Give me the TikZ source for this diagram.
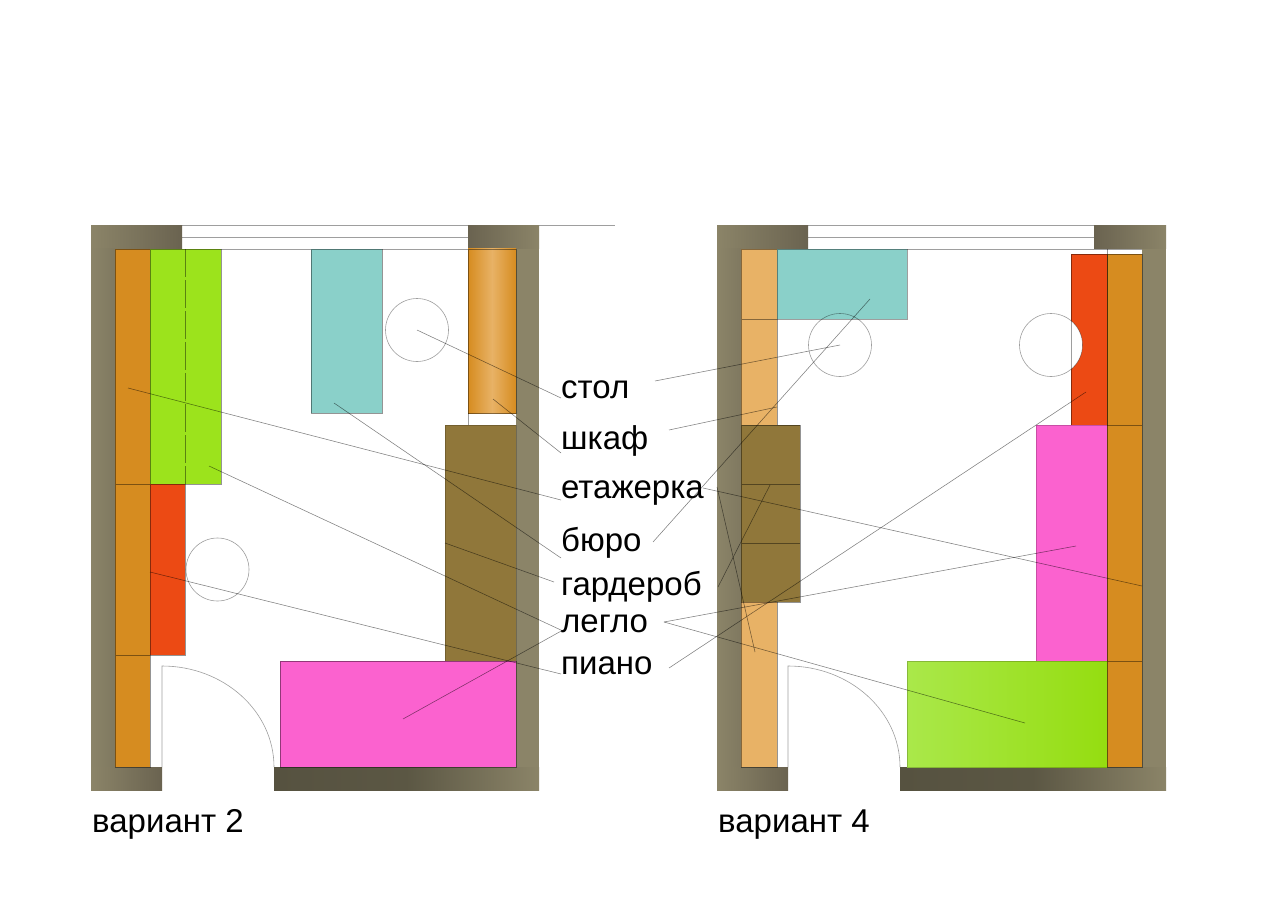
\documentclass[tikz,border=0pt]{standalone}
\usepackage{fontspec}
\setmainfont{Liberation Sans}
\definecolor{wallL}{HTML}{8B8468}
\definecolor{wallD}{HTML}{6A6350}
\definecolor{wallM}{HTML}{7F7860}
\definecolor{wallB}{HTML}{565240}
\definecolor{oran}{HTML}{D68C20}
\definecolor{oranL}{HTML}{E8B266}
\definecolor{grn}{HTML}{9CE31C}
\definecolor{grnL}{HTML}{AAE84A}
\definecolor{grnR}{HTML}{95DD10}
\definecolor{redd}{HTML}{EC4A14}
\definecolor{teal1}{HTML}{8AD0C9}
\definecolor{brwn}{HTML}{90773A}
\definecolor{pnk}{HTML}{FB62CF}
\tikzset{
  x=1pt,y=-1pt,
  edge1/.style={draw=black,draw opacity=.42,line width=.6pt},
  thinl/.style={draw=black,draw opacity=.38,line width=.6pt},
  connector/.style={draw=black,draw opacity=.5,line width=.55pt},
  label1/.style={anchor=base west,inner sep=0pt,font=\fontsize{33}{33}\selectfont}
}
\begin{document}
\begin{tikzpicture}
\useasboundingbox (0,0) rectangle (1280,904);
\fill[white] (0,0) rectangle (1280,904);
% ---------- plan 2 walls
\shade[left color=wallL,right color=wallD] (91,225.7) rectangle (182,249);
\shade[left color=wallL,right color=wallM] (91,249) rectangle (115,767);
\shade[left color=wallL,right color=wallD] (91,767) rectangle (162,790.6);
\shade[left color=wallB,right color=wallL,middle color=wallB!90!wallL] (274,767) rectangle (539,790.6);
\shade[left color=wallD,right color=wallL] (468,225.7) rectangle (539,249);
\fill[wallL] (516,249) rectangle (539,767);
\draw[thinl] (182,225) -- (468,225) (182,237) -- (468,237) (182,249) -- (468,249) (539,225) -- (615,225);
% furniture 2
\fill[oran] (115,249) rectangle (150,767);
\draw[edge1] (115,249) rectangle (150,767) (115,484) -- (150,484) (115,655) -- (150,655);
\fill[grn] (150,249) rectangle (221,484);
\draw[edge1] (150,249) rectangle (221,484);
\draw[edge1,dash pattern=on 28pt off 3pt] (185,249) -- (185,484);
\fill[redd] (150,484) rectangle (185,655);
\draw[edge1] (150,484) rectangle (185,655);
\fill[teal1] (311,249) rectangle (382,413);
\draw[edge1] (311,249) rectangle (382,413);
\shade[left color=oran,right color=oran,middle color=oranL] (468,249) rectangle (516,413);
\draw[edge1] (468,249) rectangle (516,413);
\draw[thinl] (468,413) -- (468,425);
\fill[brwn] (445,425) rectangle (516,661);
\draw[thinl,draw opacity=.2] (445,425) rectangle (516,661);
\fill[pnk] (280,661) rectangle (516,767);
\draw[edge1] (280,661) rectangle (516,767);
\draw[thinl] (417,330) circle[radius=31.5];
\draw[thinl] (217.5,569.5) circle[radius=31.5];
\draw[thinl] (162,767) -- (162,666) .. controls (223.8,666) and (274,711.2) .. (274,767);
% ---------- plan 4 walls
\shade[left color=wallL,right color=wallD] (717,225.7) rectangle (808,249);
\shade[left color=wallL,right color=wallM] (717,249) rectangle (741,767);
\shade[left color=wallL,right color=wallD] (717,767) rectangle (788,790.6);
\shade[left color=wallB,right color=wallL,middle color=wallB!90!wallL] (900,767) rectangle (1166,790.6);
\shade[left color=wallD,right color=wallL] (1094,225.7) rectangle (1166,249);
\fill[wallL] (1142,249) rectangle (1166,767);
\draw[thinl] (808,225) -- (1094,225) (808,237) -- (1094,237) (808,249) -- (1142,249);
% furniture 4
\fill[oranL] (741,249) rectangle (777,767);
\draw[edge1] (741,249) rectangle (777,767) (741,319) -- (777,319);
\fill[teal1] (777,249) rectangle (907,319);
\draw[thinl] (777,249) rectangle (907,319);
\fill[brwn] (741,425) rectangle (800,602);
\draw[edge1] (741,425) rectangle (800,602) (741,484) -- (800,484) (741,543) -- (800,543);
\draw[thinl] (840,345) circle[radius=31.5];
\fill[oran] (1107,254) rectangle (1142,767);
\draw[edge1] (1107,249) -- (1107,254) (1107,254) rectangle (1142,767) (1107,425) -- (1142,425) (1107,661) -- (1142,661);
\fill[redd] (1071,254) rectangle (1107,425);
\draw[edge1] (1071,254) rectangle (1107,425);
\fill[white,draw=black,draw opacity=.38,line width=.6pt] (1051,345) circle[radius=31.5];
\draw[thinl] (1071,321) -- (1071,369);
\fill[pnk] (1036,425) rectangle (1107,661);
\draw[thinl,draw opacity=.2] (1036,425) rectangle (1107,661);
\shade[left color=grnL,right color=grnR] (907,661) rectangle (1107,767);
\draw[thinl,draw opacity=.2] (907,661) rectangle (1107,767);
\draw[thinl] (788,767) -- (788,666) .. controls (849.8,666) and (900,711.2) .. (900,767);
% ---------- texts
\node[label1] (tstol) at (561,398) {стол};
\node[label1] (tshkaf) at (561,449) {шкаф};
\node[label1] (tetazh) at (561,498) {етажерка};
\node[label1] (tbyuro) at (561,551.5) {бюро};
\node[label1] (tgard) at (561,595.5) {гардероб};
\node[label1] (tleglo) at (561,632.5) {легло};
\node[label1] (tpiano) at (561,674.5) {пиано};
\node[label1] (tv2) at (92,832) {вариант 2};
\node[label1] (tv4) at (718,832) {вариант 4};
% ---------- connector ends
\coordinate (a1) at (417,330); \coordinate (a2) at (561,398);
\coordinate (a3) at (655,381); \coordinate (a4) at (840,345);
\coordinate (b1) at (493,399); \coordinate (b2) at (561,453);
\coordinate (b3) at (669,430); \coordinate (b4) at (777,407);
\coordinate (c1) at (128,388); \coordinate (c2) at (561,500);
\coordinate (c3) at (703,488); \coordinate (c4) at (1142,586);
\coordinate (c5) at (717,487); \coordinate (c6) at (755,652);
\coordinate (d1) at (334,403); \coordinate (d2) at (561,558);
\coordinate (d3) at (653,542); \coordinate (d4) at (870,299);
\coordinate (e1) at (445,543); \coordinate (e2) at (554,582);
\coordinate (e3) at (718,587); \coordinate (e4) at (770,485);
\coordinate (f1) at (209,466); \coordinate (f2) at (563,631);
\coordinate (f3) at (403,719); \coordinate (f4) at (563,630);
\coordinate (f5) at (664,622); \coordinate (f6) at (1076,546);
\coordinate (f7) at (1025,723);
\coordinate (g1) at (150,572); \coordinate (g2) at (561,674);
\coordinate (g3) at (669,668); \coordinate (g4) at (1086,392);
\foreach \p/\q in {a1/a2,a3/a4,b1/b2,b3/b4,c1/c2,c3/c4,c5/c6,d1/d2,d3/d4,e1/e2,e3/e4,f1/f2,f3/f4,f5/f6,f5/f7,g1/g2,g3/g4}
  \draw[connector] (\p) -- (\q);
\end{tikzpicture}
\end{document}
